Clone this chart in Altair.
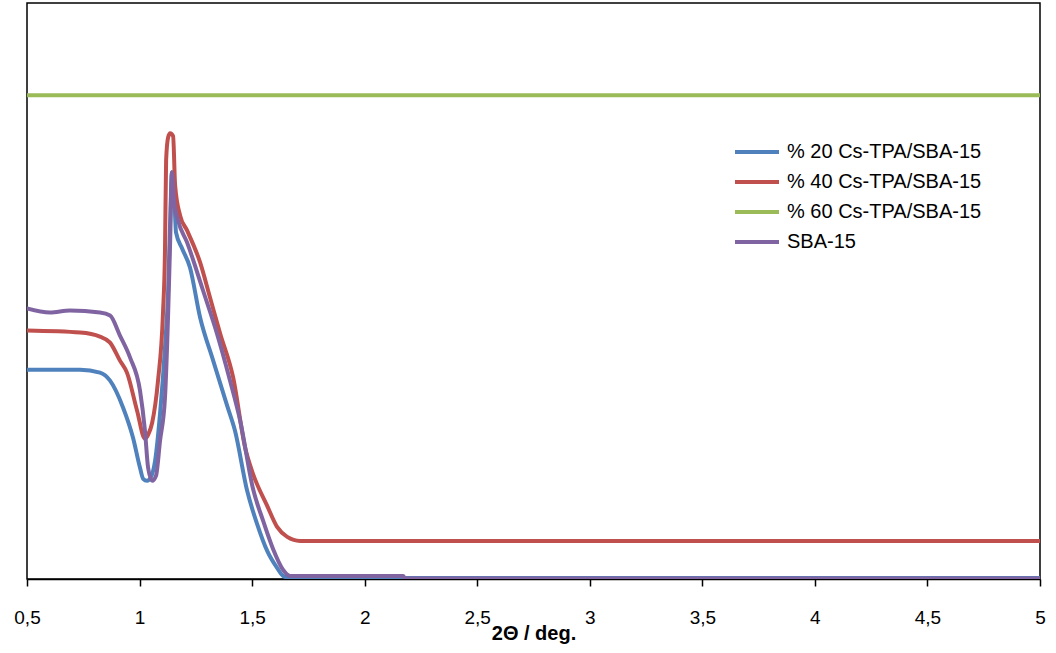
import altair as alt
import pandas as pd

series_names = ["% 20 Cs-TPA/SBA-15", "% 40 Cs-TPA/SBA-15", "% 60 Cs-TPA/SBA-15", "SBA-15"]
series_colors = ["#4F81BD", "#C0504D", "#9BBB59", "#8064A2"]

x_ticks = [0.5, 1, 1.5, 2, 2.5, 3, 3.5, 4, 4.5, 5]

blue_x = [0.5, 0.736, 0.824, 0.869, 0.927, 0.971, 1.002, 1.016, 1.033, 1.051, 1.069, 1.091, 1.113, 1.127,
          1.136, 1.144, 1.153, 1.162, 1.189, 1.224, 1.269, 1.327, 1.389, 1.424, 1.478, 1.522, 1.567, 1.611,
          1.638, 1.669, 5.0]
blue_y = [209, 209, 206, 198, 171, 141, 111, 100, 98, 102, 118, 165, 231, 288,
          358, 406, 388, 346, 330, 311, 261, 218, 173, 148, 88, 55, 28, 11,
          3, 1, 1]

red_x = [0.5, 0.736, 0.824, 0.869, 0.913, 0.944, 0.989, 1.024, 1.038, 1.056, 1.082, 1.104, 1.113, 1.118,
         1.127, 1.136, 1.149, 1.158, 1.180, 1.211, 1.269, 1.313, 1.358, 1.416, 1.469, 1.504, 1.567, 1.611,
         1.656, 1.713, 5.0]
red_y = [248, 246, 242, 236, 218, 206, 168, 140, 144, 156, 198, 265, 328, 418,
         441, 445, 442, 393, 363, 348, 316, 281, 245, 201, 131, 105, 73, 52,
         42, 38, 38]

green_x = [0.5, 5.0]
green_y = [483, 483]

purple_x = [0.5, 0.602, 0.691, 0.824, 0.869, 0.913, 0.958, 1.002, 1.024, 1.038, 1.056, 1.073, 1.091, 1.113,
            1.127, 1.136, 1.144, 1.153, 1.171, 1.211, 1.282, 1.344, 1.402, 1.447, 1.504, 1.549, 1.593, 1.638,
            1.669, 2.171, 2.18, 5.0]
purple_y = [270, 266, 268, 266, 263, 243, 221, 188, 148, 111, 98, 103, 138, 181,
            265, 338, 406, 378, 358, 336, 288, 245, 198, 158, 90, 58, 30, 9,
            3, 3, 0.5, 0.5]

frames = []
for name, xs, ys in zip(series_names,
                        [blue_x, red_x, green_x, purple_x],
                        [blue_y, red_y, green_y, purple_y]):
    frames.append(pd.DataFrame({"theta": xs, "intensity": ys, "series": name,
                                "order": list(range(len(xs)))}))
df = pd.concat(frames, ignore_index=True)

chart = alt.Chart(df).mark_line(strokeWidth=4, clip=True, strokeJoin="round", strokeCap="round",
                                interpolate="monotone").encode(
    x=alt.X("theta:Q",
            scale=alt.Scale(domain=[0.5, 5], nice=False, zero=False),
            axis=alt.Axis(values=x_ticks, title="2Θ / deg.",
                          labelExpr="replace(toString(datum.value), '.', ',')",
                          labelFlush=False, labelOverlap=False,
                          grid=False, domainColor="black", domainWidth=1.5,
                          tickColor="black", tickWidth=1.5, tickSize=7,
                          labelFontSize=19, labelColor="black", labelPadding=22,
                          labelFont="Liberation Sans",
                          titleFontSize=20, titleFontWeight="bold", titleColor="black",
                          titleFont="Liberation Sans", titleY=44, titleBaseline="top")),
    y=alt.Y("intensity:Q", scale=alt.Scale(domain=[0, 575], nice=False, zero=False), axis=None),
    color=alt.Color("series:N",
                    scale=alt.Scale(domain=series_names, range=series_colors),
                    legend=alt.Legend(title=None, orient="none", legendX=706, legendY=134,
                                      symbolType="stroke", symbolSize=1936, symbolStrokeWidth=4,
                                      clipHeight=30, rowPadding=0, padding=0, labelOffset=6,
                                      labelFontSize=20, labelFont="Liberation Sans",
                                      labelColor="black", labelLimit=400)),
    order="order:Q",
).properties(
    width=1013, height=576,
    autosize=alt.AutoSizeParams(type="none"),
    padding={"left": 27, "top": 3, "right": 16, "bottom": 74},
).configure_view(stroke="black", strokeWidth=1.5)

chart.save("out.html", embed_options={"renderer": "svg", "actions": False})
